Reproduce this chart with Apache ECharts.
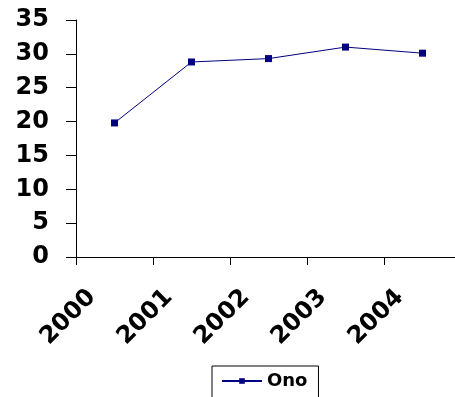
<!DOCTYPE html>
<html>
<head>
<meta charset="utf-8">
<script src="https://cdn.jsdelivr.net/npm/echarts@6/dist/echarts.min.js"></script>
<style>
  html, body { margin: 0; padding: 0; background: #ffffff; overflow: hidden; }
  /* slightly wider than the window so the plot area runs past the right edge */
  #chart { width: 461px; height: 397px; }
</style>
</head>
<body>
<div id="chart"></div>
<script>
// Years on the category axis
const years = ['2000', '2001', '2002', '2003', '2004'];
// Series values
const onoValues = [19.8, 28.8, 29.3, 31.0, 30.1];
// Value axis range
const yMin = 0;
const yMax = 35;
const yStep = 5;

const FONT = '"DejaVu Sans", "Liberation Sans", Arial, sans-serif';
const INK = '#000000';
const NAVY = '#000080';

const chart = echarts.init(document.getElementById('chart'), null, { renderer: 'canvas' });

chart.setOption({
  backgroundColor: '#ffffff',
  animation: false,
  grid: { left: 76, top: 20, right: 0, bottom: 140, containLabel: false },
  xAxis: {
    type: 'category',
    data: years,
    boundaryGap: true,
    axisLine: { show: true, lineStyle: { color: INK, width: 1 } },
    axisTick: { show: true, length: 8, lineStyle: { color: INK, width: 1 } },
    axisLabel: {
      rotate: 45,
      margin: 14,
      color: INK,
      fontFamily: FONT,
      fontWeight: 'bold',
      fontSize: 24,
      padding: [0, 32, 0, 0]
    },
    splitLine: { show: false }
  },
  yAxis: {
    type: 'value',
    min: yMin,
    max: yMax,
    interval: yStep,
    axisLine: { show: true, lineStyle: { color: INK, width: 1 } },
    axisTick: { show: true, length: 10, lineStyle: { color: INK, width: 1 } },
    axisLabel: {
      margin: 27,
      color: INK,
      fontFamily: FONT,
      fontWeight: 'bold',
      fontSize: 24
    },
    splitLine: { show: false }
  },
  legend: {
    data: ['Ono'],
    left: 212,
    top: 366,
    padding: [6, 11, 10, 9],
    borderColor: INK,
    borderWidth: 1,
    borderRadius: 0,
    itemWidth: 40,
    itemHeight: 7,
    textStyle: { color: INK, fontFamily: FONT, fontWeight: 'bold', fontSize: 18 }
  },
  series: [{
    name: 'Ono',
    type: 'line',
    data: onoValues,
    symbol: 'rect',
    symbolSize: 7,
    lineStyle: { color: NAVY, width: 1 },
    itemStyle: { color: NAVY },
    emphasis: { disabled: true }
  }]
});
</script>
</body>
</html>
